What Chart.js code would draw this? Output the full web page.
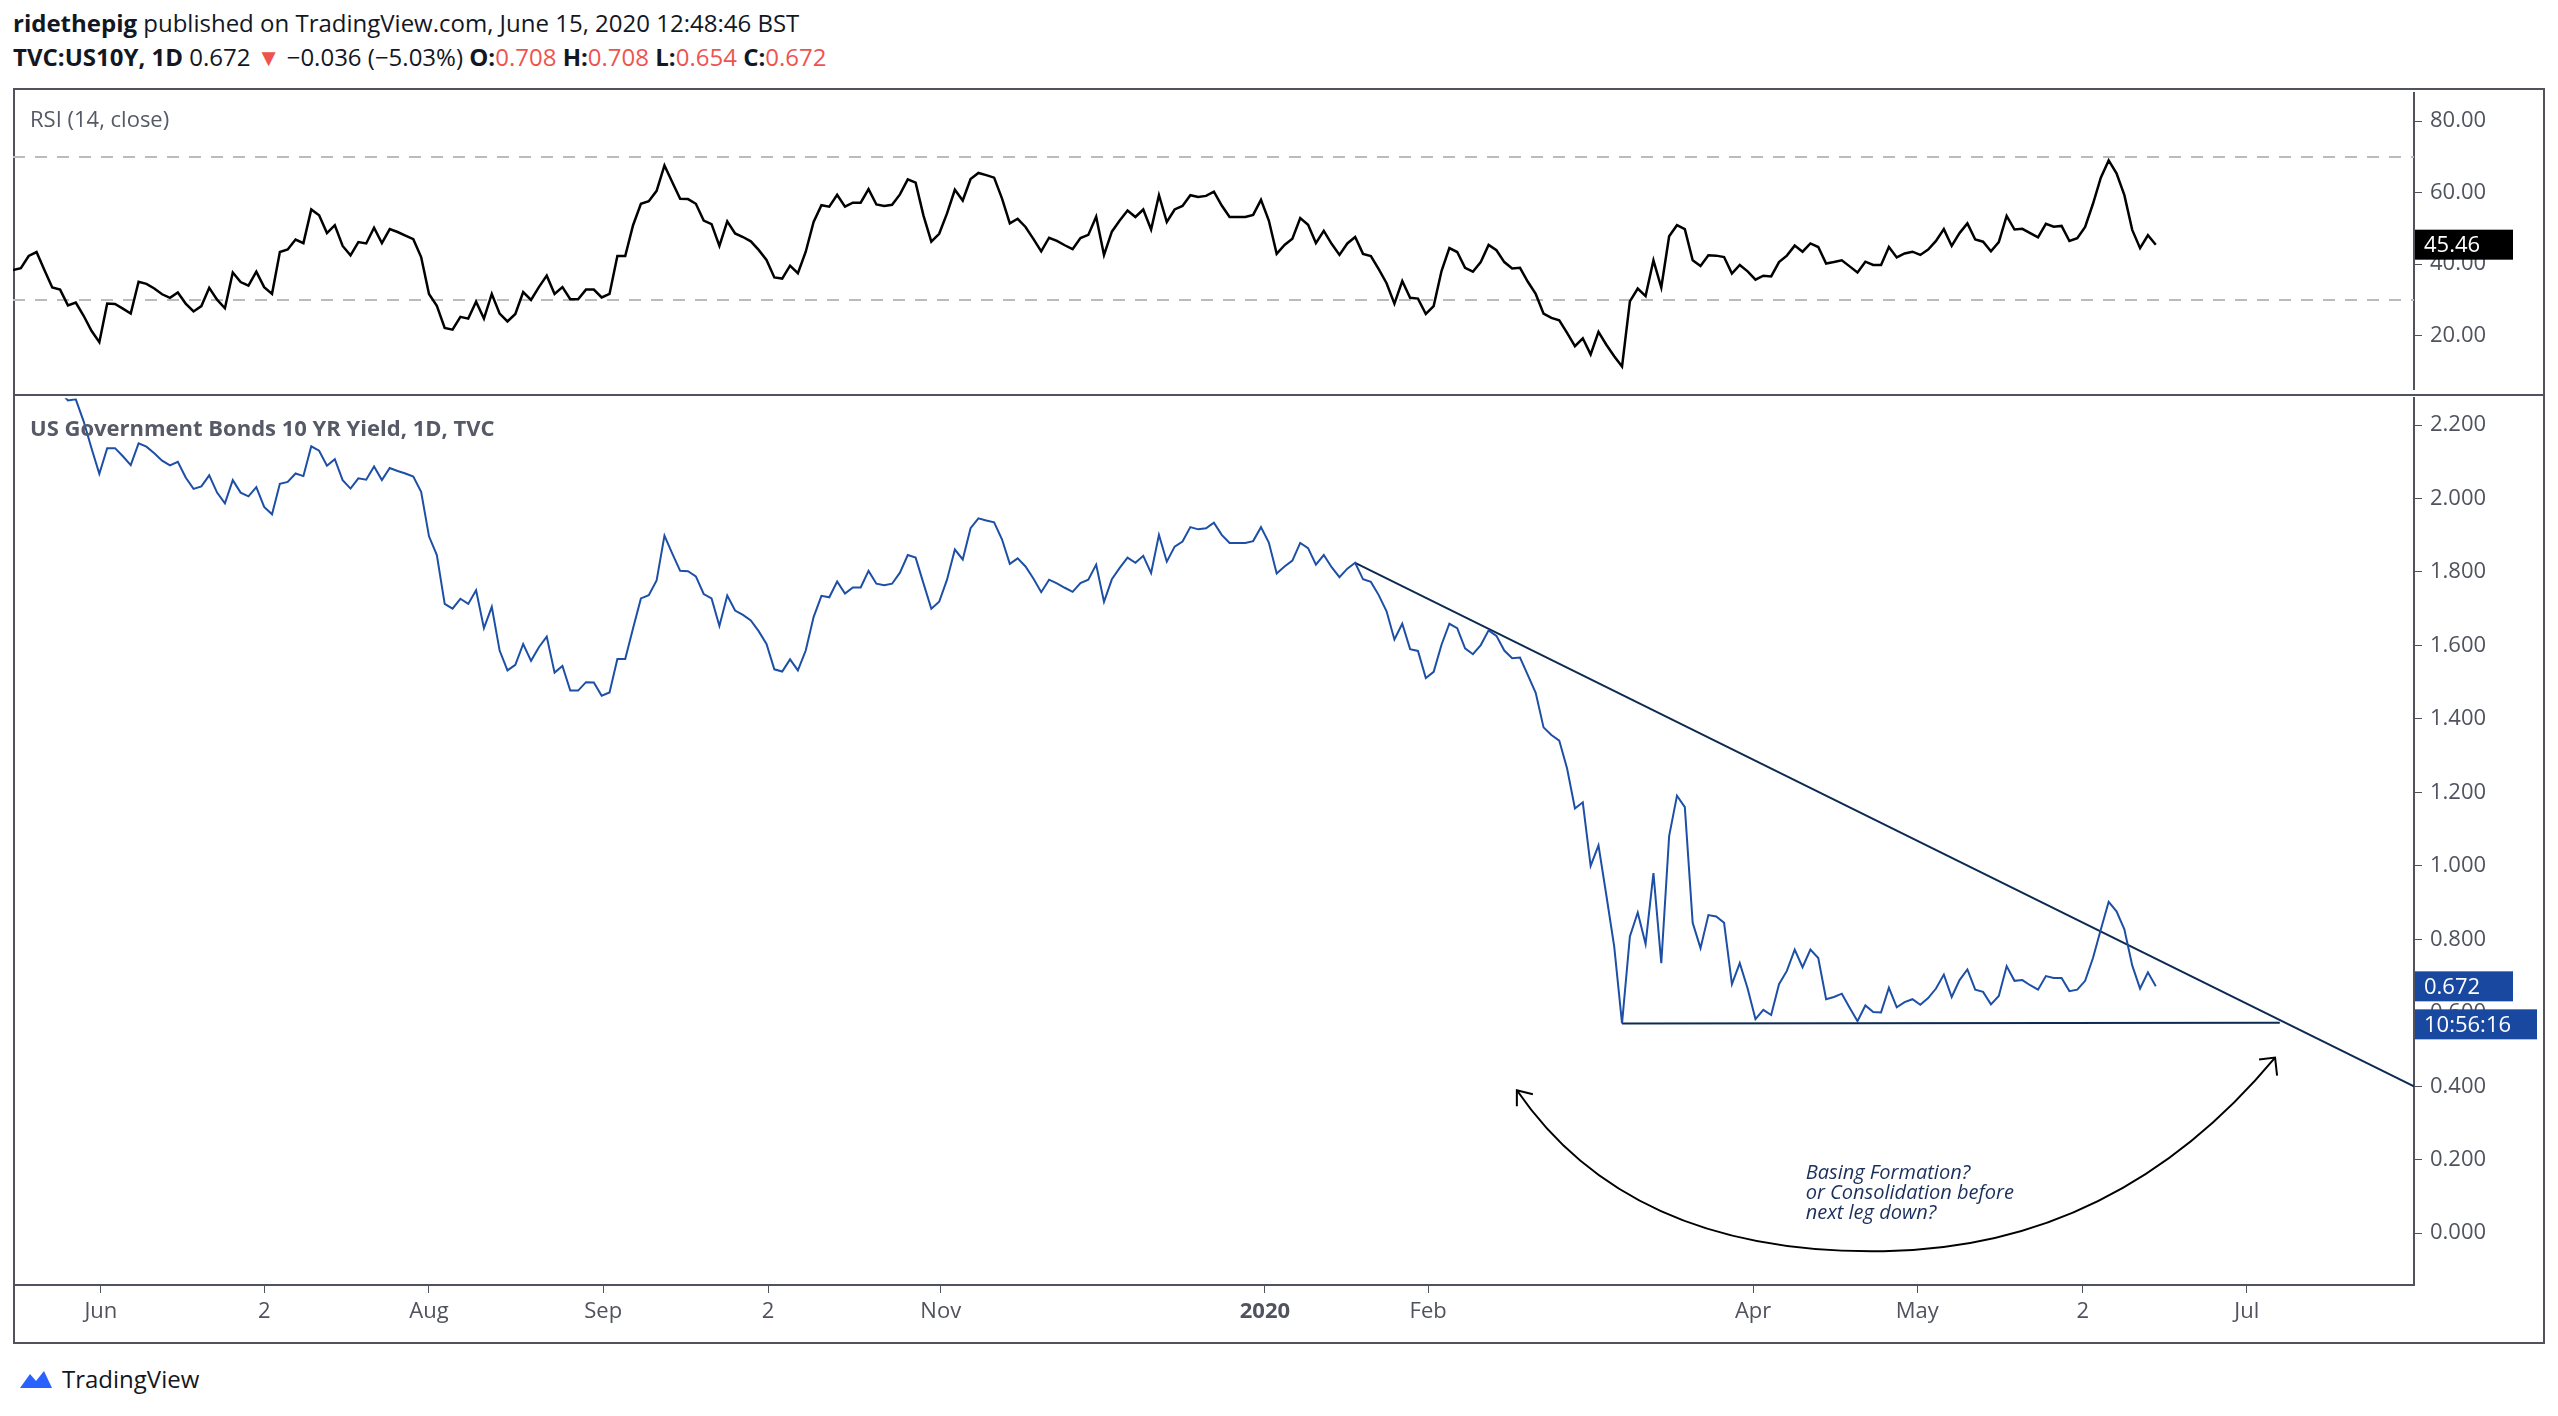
<!DOCTYPE html>
<html>
<head>
<meta charset="utf-8">
<script src="https://cdn.jsdelivr.net/npm/chart.js@4.4.0/dist/chart.umd.min.js"></script>
<style>
  body{margin:0;background:#fff;font-family:"Open Sans",sans-serif;width:2558px;height:1416px;position:relative;overflow:hidden}
  .hdr{position:absolute;left:13px;font-size:24px;color:#131722;white-space:nowrap}
  .red{color:#ef5350}
  .frame{position:absolute;left:13px;top:88px;width:2528px;height:1252px;border:2px solid #50535e;box-sizing:content-box}
  .sep{position:absolute;left:13px;top:394px;width:2530px;height:2px;background:#50535e}
  .clip{position:absolute;overflow:hidden}
  .box{position:absolute;left:0}
  .lbl{position:absolute;left:30px;font-size:22px;color:#555a66;white-space:nowrap}
  .logo{position:absolute;left:18px;top:1362px;font-size:24px;color:#131722;display:flex;align-items:center;gap:8px}
</style>
</head>
<body>
<div class="hdr" style="top:6px"><b>ridethepig</b> published on TradingView.com, June 15, 2020 12:48:46 BST</div>
<div class="hdr" style="top:40px"><b>TVC:US10Y, 1D</b> 0.672 <span class="red">&#9660;</span> &minus;0.036 (&minus;5.03%) <b>O:</b><span class="red">0.708</span> <b>H:</b><span class="red">0.708</span> <b>L:</b><span class="red">0.654</span> <b>C:</b><span class="red">0.672</span></div>
<div class="frame"></div>
<!-- canvases are a bit taller than their pane and clipped, so the tick-label padding falls outside -->
<div class="clip" style="left:13px;top:88px;width:2530px;height:307px">
  <div class="box" style="top:-16px;width:2530px;height:339px"><canvas id="rsi"></canvas></div>
</div>
<div class="clip" style="left:13px;top:395px;width:2530px;height:947px">
  <div class="box" style="top:-18px;width:2530px;height:965px"><canvas id="px"></canvas></div>
</div>
<div class="sep"></div>
<div class="lbl" style="top:103px">RSI (14, close)</div>
<div class="lbl" style="top:412px;font-weight:bold">US Government Bonds 10 YR Yield, 1D, TVC</div>
<div class="logo"><svg width="36" height="22" viewBox="0 0 36 22"><path d="M2 20 L12 6 L18 13 L26 3 L34 20 Z" fill="#2962ff"/></svg>TradingView</div>
<script>
// RSI (14) per trading day
const rsiValues = [
  38.4,38.9,42.3,43.4,38.4,33.5,32.9,28.5,29.3,25.6,21.4,18.2,29.0,28.9,27.6,26.2,35.1,34.5,33.2,31.6,
  30.6,32.1,29.0,26.8,28.3,33.4,30.1,27.7,37.7,35.0,34.0,37.9,33.6,31.7,43.4,44.1,46.9,45.9,55.3,53.7,
  48.7,50.9,45.1,42.5,46.2,45.8,50.2,45.9,49.8,49.0,48.0,47.0,42.0,31.7,28.4,22.2,21.7,25.3,24.8,29.5,
  24.8,31.7,26.2,24.0,26.1,32.2,30.0,33.6,36.8,31.7,
  33.6,30.2,30.2,32.9,32.9,30.7,31.7,42.3,42.3,50.9,56.9,57.6,60.5,67.6,62.9,58.3,58.2,56.9,52.2,51.2,
  45.1,52.0,48.6,47.6,46.4,44.0,41.2,36.3,36.0,39.6,37.5,43.5,51.8,56.5,56.1,59.4,56.1,57.2,57.2,61.0,
  56.7,56.3,56.6,59.5,63.7,62.8,53.6,46.3,48.5,54.2,60.8,57.8,63.8,65.5,64.9,64.2,58.4,51.4,52.7,50.4,
  47.1,43.6,47.4,46.5,45.3,44.2,47.3,48.2,53.3,
  42.6,49.1,52.2,55.0,53.2,55.3,49.7,59.3,51.8,55.3,56.3,59.3,58.8,59.1,60.3,56.4,53.2,53.2,53.2,53.8,
  58.0,52.2,42.9,45.4,47.1,52.9,51.0,45.9,49.3,45.7,42.6,45.8,47.6,42.9,42.3,38.6,34.7,29.0,35.3,30.6,
  30.4,26.1,28.3,38.1,44.5,43.4,39.0,37.9,40.6,45.4,43.9,40.6,38.8,39.0,35.1,31.7,26.2,25.0,24.3,20.8,
  17.1,19.3,14.8,21.1,17.5,14.3,11.4,
  29.6,33.2,31.1,41.1,33.5,47.8,50.9,49.8,41.1,39.5,42.5,42.4,42.0,37.4,39.8,38.0,35.7,36.8,36.6,40.6,
  42.4,45.2,43.5,45.8,44.8,40.2,40.6,41.1,39.4,37.7,40.7,39.8,39.8,44.8,41.9,43.0,43.5,42.6,44.1,46.5,
  49.8,45.1,48.7,51.4,46.9,46.3,43.6,46.2,53.5,49.7,49.9,48.7,47.5,51.3,50.5,50.7,46.5,47.3,50.4,56.9,
  64.2,69.0,65.4,59.3,49.6,44.5,48.1,45.46
];
// US10Y close per trading day
const yieldValues = [
  2.36,2.38,2.35,2.39,2.34,2.31,2.29,
  2.267,2.270,2.210,2.137,2.067,2.137,2.137,2.115,2.091,2.150,2.141,2.123,2.103,2.090,2.100,2.057,2.026,2.033,2.063,2.016,
  1.987,2.050,2.016,2.006,2.031,1.977,1.957,2.040,2.045,2.068,2.061,2.142,2.130,2.089,2.107,2.050,2.027,2.055,2.051,2.087,
  2.050,2.083,2.075,2.068,2.060,2.018,1.897,1.846,1.713,1.700,1.727,1.713,1.750,1.647,1.705,1.586,1.532,1.547,1.604,1.558,
  1.595,1.624,1.526,
  1.544,1.477,1.477,1.500,1.499,1.463,1.472,1.563,1.563,1.647,1.728,1.737,1.777,1.899,1.850,1.803,1.802,1.788,1.740,1.728,
  1.653,1.736,1.695,1.683,1.668,1.639,1.604,1.535,1.529,1.562,1.532,1.586,1.677,1.735,1.731,1.774,1.741,1.758,1.758,1.803,
  1.768,1.764,1.768,1.798,1.846,1.839,1.769,1.700,1.719,1.779,1.861,1.834,1.919,1.946,1.940,1.935,1.889,1.822,1.837,1.815,
  1.782,1.745,1.779,1.769,1.757,1.746,1.770,1.779,1.820,
  1.719,1.780,1.811,1.839,1.825,1.844,1.797,1.901,1.828,1.869,1.883,1.922,1.916,1.919,1.934,1.901,1.879,1.879,1.879,1.884,
  1.922,1.880,1.796,1.815,1.831,1.879,1.865,1.820,1.846,1.813,1.786,1.809,1.825,1.780,1.773,1.737,1.693,1.616,1.659,1.590,
  1.585,1.511,1.528,1.602,1.659,1.647,1.592,1.576,1.601,1.641,1.626,1.586,1.565,1.567,1.519,1.471,1.377,1.356,1.341,1.265,
  1.156,1.173,1.000,1.056,0.920,0.781,0.571,0.808,0.873,0.787,0.980,0.735,1.081,1.191,1.160,0.845,0.776,0.866,0.862,0.845,
  0.678,0.735,0.666,0.583,0.608,0.594,0.678,0.714,0.772,0.724,0.772,0.749,0.637,0.643,0.652,0.614,0.577,0.620,0.602,0.601,
  0.668,0.615,0.629,0.637,0.622,0.640,0.666,0.704,0.643,0.689,0.718,0.663,0.657,0.623,0.646,0.727,0.687,0.689,0.675,0.663,
  0.700,0.695,0.695,0.659,0.663,0.687,0.749,0.827,0.902,0.876,0.827,0.729,0.666,0.710,0.672
];
// x axis: trading-day index of each date label
const xTickPos = [11.2,32.0,53.0,75.2,96.2,118.2,159.5,180.3,221.7,242.6,263.7,284.6];
const xTickLabels = ["Jun","2","Aug","Sep","2","Nov","2020","Feb","Apr","May","2","Jul"];
const rsiTicks = [20,40,60,80];
const rsiBands = [70,30];
const priceTicks = [0,0.2,0.4,0.6,0.8,1.0,1.2,1.4,1.6,1.8,2.0,2.2];
// drawings on the price pane (trading-day index, yield)
const trendDown = [{x:171,y:1.825},{x:305.9,y:0.40}];
const trendFlat = [{x:205,y:0.571},{x:288.8,y:0.573}];
const arcPts = [{x:191.6,y:0.389},{x:206,y:-0.06},{x:238.3,y:-0.049},{x:268,y:-0.04},{x:288.2,y:0.478}];
const noteLines = ["Basing Formation?","or Consolidation before","next leg down?"];
const notePos = {x:228.4,y:0.19};

const X_MAX = 305.9;
const AXIS_W = 129;
const axisColor = "#50535e";
const tickFont = {family:"Open Sans", size:22};

function pts(vals){ return vals.map((v,i)=>({x:i,y:v})); }

function axisLabel(chart, value, text, bg, fg, w, dy){
  const c = chart.ctx, a = chart.chartArea;
  const y = chart.scales.y.getPixelForValue(value) + (dy||0);
  c.save();
  c.fillStyle = bg;
  c.fillRect(a.right+1, y-15, w, 30);
  c.fillStyle = fg;
  c.font = "22px Open Sans";
  c.textBaseline = "middle";
  c.fillText(text, a.right+10, y+1);
  c.restore();
}

const rsiChart = new Chart(document.getElementById("rsi"), {
  type:"line",
  data:{datasets:[
    {data:pts(rsiValues), borderColor:"#000", borderWidth:2.5, pointRadius:0, tension:0},
    ...rsiBands.map(b=>({data:[{x:0,y:b},{x:X_MAX,y:b}], borderColor:"#bbbbbb", borderWidth:2, borderDash:[12,10], pointRadius:0}))
  ]},
  options:{
    responsive:true, maintainAspectRatio:false, animation:false,
    layout:{padding:0},
    plugins:{legend:{display:false}, tooltip:{enabled:false}},
    scales:{
      x:{type:"linear", min:0, max:X_MAX, display:false},
      y:{position:"right", min:4.9, max:87.8,
        afterFit:s=>{s.width=AXIS_W;},
        afterBuildTicks:s=>{s.ticks=rsiTicks.map(v=>({value:v}));},
        grid:{drawOnChartArea:false, tickLength:8, color:axisColor},
        border:{color:axisColor, width:2},
        ticks:{color:axisColor, font:tickFont, padding:8, callback:v=>v.toFixed(2)}}
    }
  },
  plugins:[{id:"lastRsi", afterDraw:ch=>axisLabel(ch, rsiValues[rsiValues.length-1], "45.46", "#000", "#fff", 98)}]
});

const priceChart = new Chart(document.getElementById("px"), {
  type:"line",
  data:{datasets:[
    {data:pts(yieldValues), borderColor:"#1c4fa5", borderWidth:2, pointRadius:0, tension:0},
    {data:trendDown, borderColor:"#0d2b52", borderWidth:2, pointRadius:0},
    {data:trendFlat, borderColor:"#0d2b52", borderWidth:2, pointRadius:0}
  ]},
  options:{
    responsive:true, maintainAspectRatio:false, animation:false,
    layout:{padding:0},
    plugins:{legend:{display:false}, tooltip:{enabled:false}},
    scales:{
      x:{type:"linear", min:0, max:X_MAX,
        afterFit:s=>{s.height=57;},
        afterBuildTicks:s=>{s.ticks=xTickPos.map(v=>({value:v}));},
        grid:{drawOnChartArea:false, tickLength:8, color:axisColor},
        border:{color:axisColor, width:2},
        ticks:{color:axisColor, padding:6, maxRotation:0, autoSkip:false,
          font:c=>({family:"Open Sans", size:22, weight:(c.index===6?"bold":"normal")}),
          callback:(v,i)=>xTickLabels[i]}},
      y:{position:"right", min:-0.141, max:2.273,
        afterFit:s=>{s.width=AXIS_W;},
        afterBuildTicks:s=>{s.ticks=priceTicks.map(v=>({value:v}));},
        grid:{drawOnChartArea:false, tickLength:8, color:axisColor},
        border:{color:axisColor, width:2},
        ticks:{color:axisColor, font:tickFont, padding:8, callback:v=>v.toFixed(3)}}
    }
  },
  plugins:[{id:"drawings", afterDraw:ch=>{
    const c = ch.ctx, xs = ch.scales.x, ys = ch.scales.y;
    const P = p=>[xs.getPixelForValue(p.x), ys.getPixelForValue(p.y)];
    const [s,c1,m,c2,e] = arcPts.map(P);
    c.save();
    c.strokeStyle = "#000"; c.lineWidth = 2;
    c.beginPath();
    c.moveTo(s[0],s[1]);
    c.quadraticCurveTo(c1[0],c1[1],m[0],m[1]);
    c.quadraticCurveTo(c2[0],c2[1],e[0],e[1]);
    c.stroke();
    // arrowheads
    c.beginPath();
    c.moveTo(s[0],s[1]+16); c.lineTo(s[0],s[1]); c.lineTo(s[0]+16,s[1]+4);
    c.moveTo(e[0]-16,e[1]+2); c.lineTo(e[0],e[1]); c.lineTo(e[0]+2,e[1]+18);
    c.stroke();
    c.fillStyle = "#1a2f5a";
    c.font = "italic 20px Open Sans";
    c.textBaseline = "top";
    const n = P(notePos);
    noteLines.forEach((t,i)=>c.fillText(t, n[0], n[1]+i*20));
    c.restore();
    axisLabel(ch, yieldValues[yieldValues.length-1], "0.672", "#1848a0", "#fff", 98);
    axisLabel(ch, yieldValues[yieldValues.length-1], "10:56:16", "#1848a0", "#fff", 122, 38);
  }}]
});
</script>
</body>
</html>
